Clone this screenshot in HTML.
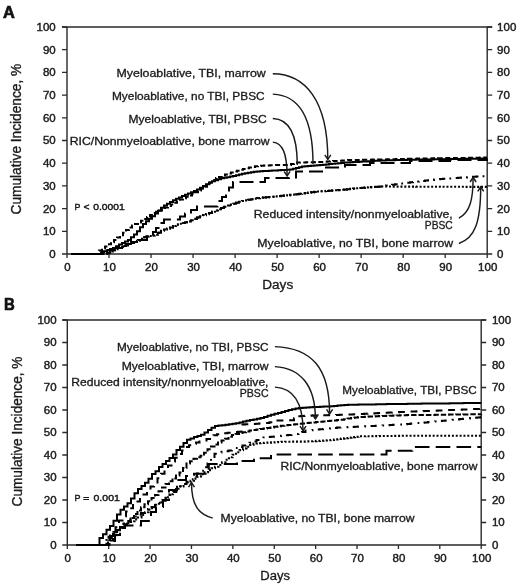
<!DOCTYPE html><html><head><meta charset="utf-8"><style>html,body{margin:0;padding:0;background:#fff;} svg{display:block;will-change:transform;} text{font-family:"Liberation Sans", sans-serif;}</style></head><body>
<svg width="520" height="585" viewBox="0 0 520 585">
<rect width="520" height="585" fill="#fff"/>
<text x="3.1" y="18.1" font-size="16.8" text-anchor="start" font-weight="bold" fill="#111" stroke="#111" stroke-width="0.7" textLength="11.8" lengthAdjust="spacingAndGlyphs">A</text>
<text x="3.9" y="309.8" font-size="17.2" text-anchor="start" font-weight="bold" fill="#111" stroke="#111" stroke-width="0.7" textLength="10.8" lengthAdjust="spacingAndGlyphs">B</text>
<path d="M67.0,27.0 V254.0 M487.2,27.0 V254.0 M62.0,27.0 H492.2 M67.0,254.0 H487.2" stroke="#2a2a2a" stroke-width="1.4" fill="none"/>
<text x="55.7" y="257.90" font-size="10.5" text-anchor="end" font-weight="normal" fill="#1a1a1a" stroke="#1a1a1a" stroke-width="0.4" textLength="6.4" lengthAdjust="spacingAndGlyphs">0</text>
<text x="497.1" y="257.90" font-size="10.5" text-anchor="start" font-weight="normal" fill="#1a1a1a" stroke="#1a1a1a" stroke-width="0.4" textLength="6.4" lengthAdjust="spacingAndGlyphs">0</text>
<text x="55.7" y="235.20" font-size="10.5" text-anchor="end" font-weight="normal" fill="#1a1a1a" stroke="#1a1a1a" stroke-width="0.4" textLength="12.8" lengthAdjust="spacingAndGlyphs">10</text>
<text x="497.1" y="235.20" font-size="10.5" text-anchor="start" font-weight="normal" fill="#1a1a1a" stroke="#1a1a1a" stroke-width="0.4" textLength="12.8" lengthAdjust="spacingAndGlyphs">10</text>
<text x="55.7" y="212.50" font-size="10.5" text-anchor="end" font-weight="normal" fill="#1a1a1a" stroke="#1a1a1a" stroke-width="0.4" textLength="12.8" lengthAdjust="spacingAndGlyphs">20</text>
<text x="497.1" y="212.50" font-size="10.5" text-anchor="start" font-weight="normal" fill="#1a1a1a" stroke="#1a1a1a" stroke-width="0.4" textLength="12.8" lengthAdjust="spacingAndGlyphs">20</text>
<text x="55.7" y="189.80" font-size="10.5" text-anchor="end" font-weight="normal" fill="#1a1a1a" stroke="#1a1a1a" stroke-width="0.4" textLength="12.8" lengthAdjust="spacingAndGlyphs">30</text>
<text x="497.1" y="189.80" font-size="10.5" text-anchor="start" font-weight="normal" fill="#1a1a1a" stroke="#1a1a1a" stroke-width="0.4" textLength="12.8" lengthAdjust="spacingAndGlyphs">30</text>
<text x="55.7" y="167.10" font-size="10.5" text-anchor="end" font-weight="normal" fill="#1a1a1a" stroke="#1a1a1a" stroke-width="0.4" textLength="12.8" lengthAdjust="spacingAndGlyphs">40</text>
<text x="497.1" y="167.10" font-size="10.5" text-anchor="start" font-weight="normal" fill="#1a1a1a" stroke="#1a1a1a" stroke-width="0.4" textLength="12.8" lengthAdjust="spacingAndGlyphs">40</text>
<text x="55.7" y="144.40" font-size="10.5" text-anchor="end" font-weight="normal" fill="#1a1a1a" stroke="#1a1a1a" stroke-width="0.4" textLength="12.8" lengthAdjust="spacingAndGlyphs">50</text>
<text x="497.1" y="144.40" font-size="10.5" text-anchor="start" font-weight="normal" fill="#1a1a1a" stroke="#1a1a1a" stroke-width="0.4" textLength="12.8" lengthAdjust="spacingAndGlyphs">50</text>
<text x="55.7" y="121.70" font-size="10.5" text-anchor="end" font-weight="normal" fill="#1a1a1a" stroke="#1a1a1a" stroke-width="0.4" textLength="12.8" lengthAdjust="spacingAndGlyphs">60</text>
<text x="497.1" y="121.70" font-size="10.5" text-anchor="start" font-weight="normal" fill="#1a1a1a" stroke="#1a1a1a" stroke-width="0.4" textLength="12.8" lengthAdjust="spacingAndGlyphs">60</text>
<text x="55.7" y="99.00" font-size="10.5" text-anchor="end" font-weight="normal" fill="#1a1a1a" stroke="#1a1a1a" stroke-width="0.4" textLength="12.8" lengthAdjust="spacingAndGlyphs">70</text>
<text x="497.1" y="99.00" font-size="10.5" text-anchor="start" font-weight="normal" fill="#1a1a1a" stroke="#1a1a1a" stroke-width="0.4" textLength="12.8" lengthAdjust="spacingAndGlyphs">70</text>
<text x="55.7" y="76.30" font-size="10.5" text-anchor="end" font-weight="normal" fill="#1a1a1a" stroke="#1a1a1a" stroke-width="0.4" textLength="12.8" lengthAdjust="spacingAndGlyphs">80</text>
<text x="497.1" y="76.30" font-size="10.5" text-anchor="start" font-weight="normal" fill="#1a1a1a" stroke="#1a1a1a" stroke-width="0.4" textLength="12.8" lengthAdjust="spacingAndGlyphs">80</text>
<text x="55.7" y="53.60" font-size="10.5" text-anchor="end" font-weight="normal" fill="#1a1a1a" stroke="#1a1a1a" stroke-width="0.4" textLength="12.8" lengthAdjust="spacingAndGlyphs">90</text>
<text x="497.1" y="53.60" font-size="10.5" text-anchor="start" font-weight="normal" fill="#1a1a1a" stroke="#1a1a1a" stroke-width="0.4" textLength="12.8" lengthAdjust="spacingAndGlyphs">90</text>
<text x="55.7" y="30.90" font-size="10.5" text-anchor="end" font-weight="normal" fill="#1a1a1a" stroke="#1a1a1a" stroke-width="0.4" textLength="19.2" lengthAdjust="spacingAndGlyphs">100</text>
<text x="497.1" y="30.90" font-size="10.5" text-anchor="start" font-weight="normal" fill="#1a1a1a" stroke="#1a1a1a" stroke-width="0.4" textLength="19.2" lengthAdjust="spacingAndGlyphs">100</text>
<text x="67.50" y="271.0" font-size="10.5" text-anchor="middle" font-weight="normal" fill="#1a1a1a" stroke="#1a1a1a" stroke-width="0.4" textLength="6.4" lengthAdjust="spacingAndGlyphs">0</text>
<text x="109.52" y="271.0" font-size="10.5" text-anchor="middle" font-weight="normal" fill="#1a1a1a" stroke="#1a1a1a" stroke-width="0.4" textLength="12.8" lengthAdjust="spacingAndGlyphs">10</text>
<text x="151.54" y="271.0" font-size="10.5" text-anchor="middle" font-weight="normal" fill="#1a1a1a" stroke="#1a1a1a" stroke-width="0.4" textLength="12.8" lengthAdjust="spacingAndGlyphs">20</text>
<text x="193.56" y="271.0" font-size="10.5" text-anchor="middle" font-weight="normal" fill="#1a1a1a" stroke="#1a1a1a" stroke-width="0.4" textLength="12.8" lengthAdjust="spacingAndGlyphs">30</text>
<text x="235.58" y="271.0" font-size="10.5" text-anchor="middle" font-weight="normal" fill="#1a1a1a" stroke="#1a1a1a" stroke-width="0.4" textLength="12.8" lengthAdjust="spacingAndGlyphs">40</text>
<text x="277.60" y="271.0" font-size="10.5" text-anchor="middle" font-weight="normal" fill="#1a1a1a" stroke="#1a1a1a" stroke-width="0.4" textLength="12.8" lengthAdjust="spacingAndGlyphs">50</text>
<text x="319.62" y="271.0" font-size="10.5" text-anchor="middle" font-weight="normal" fill="#1a1a1a" stroke="#1a1a1a" stroke-width="0.4" textLength="12.8" lengthAdjust="spacingAndGlyphs">60</text>
<text x="361.64" y="271.0" font-size="10.5" text-anchor="middle" font-weight="normal" fill="#1a1a1a" stroke="#1a1a1a" stroke-width="0.4" textLength="12.8" lengthAdjust="spacingAndGlyphs">70</text>
<text x="403.66" y="271.0" font-size="10.5" text-anchor="middle" font-weight="normal" fill="#1a1a1a" stroke="#1a1a1a" stroke-width="0.4" textLength="12.8" lengthAdjust="spacingAndGlyphs">80</text>
<text x="445.68" y="271.0" font-size="10.5" text-anchor="middle" font-weight="normal" fill="#1a1a1a" stroke="#1a1a1a" stroke-width="0.4" textLength="12.8" lengthAdjust="spacingAndGlyphs">90</text>
<text x="487.70" y="271.0" font-size="10.5" text-anchor="middle" font-weight="normal" fill="#1a1a1a" stroke="#1a1a1a" stroke-width="0.4" textLength="19.2" lengthAdjust="spacingAndGlyphs">100</text>
<path d="M62.0,254.00 H67.0 M487.2,254.00 H492.2 M62.0,231.30 H67.0 M487.2,231.30 H492.2 M62.0,208.60 H67.0 M487.2,208.60 H492.2 M62.0,185.90 H67.0 M487.2,185.90 H492.2 M62.0,163.20 H67.0 M487.2,163.20 H492.2 M62.0,140.50 H67.0 M487.2,140.50 H492.2 M62.0,117.80 H67.0 M487.2,117.80 H492.2 M62.0,95.10 H67.0 M487.2,95.10 H492.2 M62.0,72.40 H67.0 M487.2,72.40 H492.2 M62.0,49.70 H67.0 M487.2,49.70 H492.2 M62.0,27.00 H67.0 M487.2,27.00 H492.2 M67.00,254.0 V258.0 M109.02,254.0 V258.0 M151.04,254.0 V258.0 M193.06,254.0 V258.0 M235.08,254.0 V258.0 M277.10,254.0 V258.0 M319.12,254.0 V258.0 M361.14,254.0 V258.0 M403.16,254.0 V258.0 M445.18,254.0 V258.0 M487.20,254.0 V258.0" stroke="#2a2a2a" stroke-width="1.3" fill="none"/>
<text x="262.2" y="288.7" font-size="12.5" text-anchor="start" font-weight="normal" fill="#1a1a1a" stroke="#1a1a1a" stroke-width="0.3" textLength="31.0" lengthAdjust="spacingAndGlyphs">Days</text>
<text transform="translate(21.1,214.5) rotate(-90)" x="0" y="0" font-size="14" fill="#1a1a1a" stroke="#1a1a1a" stroke-width="0.35" textLength="150.7" lengthAdjust="spacingAndGlyphs">Cumulative Incidence, %</text>
<path d="M67.3,320.0 V545.0 M481.2,320.0 V545.0 M62.3,320.0 H486.2 M67.3,545.0 H481.2" stroke="#2a2a2a" stroke-width="1.4" fill="none"/>
<text x="56.6" y="548.90" font-size="10.5" text-anchor="end" font-weight="normal" fill="#1a1a1a" stroke="#1a1a1a" stroke-width="0.4" textLength="6.4" lengthAdjust="spacingAndGlyphs">0</text>
<text x="491.9" y="548.90" font-size="10.5" text-anchor="start" font-weight="normal" fill="#1a1a1a" stroke="#1a1a1a" stroke-width="0.4" textLength="6.4" lengthAdjust="spacingAndGlyphs">0</text>
<text x="56.6" y="526.40" font-size="10.5" text-anchor="end" font-weight="normal" fill="#1a1a1a" stroke="#1a1a1a" stroke-width="0.4" textLength="12.8" lengthAdjust="spacingAndGlyphs">10</text>
<text x="491.9" y="526.40" font-size="10.5" text-anchor="start" font-weight="normal" fill="#1a1a1a" stroke="#1a1a1a" stroke-width="0.4" textLength="12.8" lengthAdjust="spacingAndGlyphs">10</text>
<text x="56.6" y="503.90" font-size="10.5" text-anchor="end" font-weight="normal" fill="#1a1a1a" stroke="#1a1a1a" stroke-width="0.4" textLength="12.8" lengthAdjust="spacingAndGlyphs">20</text>
<text x="491.9" y="503.90" font-size="10.5" text-anchor="start" font-weight="normal" fill="#1a1a1a" stroke="#1a1a1a" stroke-width="0.4" textLength="12.8" lengthAdjust="spacingAndGlyphs">20</text>
<text x="56.6" y="481.40" font-size="10.5" text-anchor="end" font-weight="normal" fill="#1a1a1a" stroke="#1a1a1a" stroke-width="0.4" textLength="12.8" lengthAdjust="spacingAndGlyphs">30</text>
<text x="491.9" y="481.40" font-size="10.5" text-anchor="start" font-weight="normal" fill="#1a1a1a" stroke="#1a1a1a" stroke-width="0.4" textLength="12.8" lengthAdjust="spacingAndGlyphs">30</text>
<text x="56.6" y="458.90" font-size="10.5" text-anchor="end" font-weight="normal" fill="#1a1a1a" stroke="#1a1a1a" stroke-width="0.4" textLength="12.8" lengthAdjust="spacingAndGlyphs">40</text>
<text x="491.9" y="458.90" font-size="10.5" text-anchor="start" font-weight="normal" fill="#1a1a1a" stroke="#1a1a1a" stroke-width="0.4" textLength="12.8" lengthAdjust="spacingAndGlyphs">40</text>
<text x="56.6" y="436.40" font-size="10.5" text-anchor="end" font-weight="normal" fill="#1a1a1a" stroke="#1a1a1a" stroke-width="0.4" textLength="12.8" lengthAdjust="spacingAndGlyphs">50</text>
<text x="491.9" y="436.40" font-size="10.5" text-anchor="start" font-weight="normal" fill="#1a1a1a" stroke="#1a1a1a" stroke-width="0.4" textLength="12.8" lengthAdjust="spacingAndGlyphs">50</text>
<text x="56.6" y="413.90" font-size="10.5" text-anchor="end" font-weight="normal" fill="#1a1a1a" stroke="#1a1a1a" stroke-width="0.4" textLength="12.8" lengthAdjust="spacingAndGlyphs">60</text>
<text x="491.9" y="413.90" font-size="10.5" text-anchor="start" font-weight="normal" fill="#1a1a1a" stroke="#1a1a1a" stroke-width="0.4" textLength="12.8" lengthAdjust="spacingAndGlyphs">60</text>
<text x="56.6" y="391.40" font-size="10.5" text-anchor="end" font-weight="normal" fill="#1a1a1a" stroke="#1a1a1a" stroke-width="0.4" textLength="12.8" lengthAdjust="spacingAndGlyphs">70</text>
<text x="491.9" y="391.40" font-size="10.5" text-anchor="start" font-weight="normal" fill="#1a1a1a" stroke="#1a1a1a" stroke-width="0.4" textLength="12.8" lengthAdjust="spacingAndGlyphs">70</text>
<text x="56.6" y="368.90" font-size="10.5" text-anchor="end" font-weight="normal" fill="#1a1a1a" stroke="#1a1a1a" stroke-width="0.4" textLength="12.8" lengthAdjust="spacingAndGlyphs">80</text>
<text x="491.9" y="368.90" font-size="10.5" text-anchor="start" font-weight="normal" fill="#1a1a1a" stroke="#1a1a1a" stroke-width="0.4" textLength="12.8" lengthAdjust="spacingAndGlyphs">80</text>
<text x="56.6" y="346.40" font-size="10.5" text-anchor="end" font-weight="normal" fill="#1a1a1a" stroke="#1a1a1a" stroke-width="0.4" textLength="12.8" lengthAdjust="spacingAndGlyphs">90</text>
<text x="491.9" y="346.40" font-size="10.5" text-anchor="start" font-weight="normal" fill="#1a1a1a" stroke="#1a1a1a" stroke-width="0.4" textLength="12.8" lengthAdjust="spacingAndGlyphs">90</text>
<text x="56.6" y="323.90" font-size="10.5" text-anchor="end" font-weight="normal" fill="#1a1a1a" stroke="#1a1a1a" stroke-width="0.4" textLength="19.2" lengthAdjust="spacingAndGlyphs">100</text>
<text x="491.9" y="323.90" font-size="10.5" text-anchor="start" font-weight="normal" fill="#1a1a1a" stroke="#1a1a1a" stroke-width="0.4" textLength="19.2" lengthAdjust="spacingAndGlyphs">100</text>
<text x="67.80" y="562.0" font-size="10.5" text-anchor="middle" font-weight="normal" fill="#1a1a1a" stroke="#1a1a1a" stroke-width="0.4" textLength="6.4" lengthAdjust="spacingAndGlyphs">0</text>
<text x="109.19" y="562.0" font-size="10.5" text-anchor="middle" font-weight="normal" fill="#1a1a1a" stroke="#1a1a1a" stroke-width="0.4" textLength="12.8" lengthAdjust="spacingAndGlyphs">10</text>
<text x="150.58" y="562.0" font-size="10.5" text-anchor="middle" font-weight="normal" fill="#1a1a1a" stroke="#1a1a1a" stroke-width="0.4" textLength="12.8" lengthAdjust="spacingAndGlyphs">20</text>
<text x="191.97" y="562.0" font-size="10.5" text-anchor="middle" font-weight="normal" fill="#1a1a1a" stroke="#1a1a1a" stroke-width="0.4" textLength="12.8" lengthAdjust="spacingAndGlyphs">30</text>
<text x="233.36" y="562.0" font-size="10.5" text-anchor="middle" font-weight="normal" fill="#1a1a1a" stroke="#1a1a1a" stroke-width="0.4" textLength="12.8" lengthAdjust="spacingAndGlyphs">40</text>
<text x="274.75" y="562.0" font-size="10.5" text-anchor="middle" font-weight="normal" fill="#1a1a1a" stroke="#1a1a1a" stroke-width="0.4" textLength="12.8" lengthAdjust="spacingAndGlyphs">50</text>
<text x="316.14" y="562.0" font-size="10.5" text-anchor="middle" font-weight="normal" fill="#1a1a1a" stroke="#1a1a1a" stroke-width="0.4" textLength="12.8" lengthAdjust="spacingAndGlyphs">60</text>
<text x="357.53" y="562.0" font-size="10.5" text-anchor="middle" font-weight="normal" fill="#1a1a1a" stroke="#1a1a1a" stroke-width="0.4" textLength="12.8" lengthAdjust="spacingAndGlyphs">70</text>
<text x="398.92" y="562.0" font-size="10.5" text-anchor="middle" font-weight="normal" fill="#1a1a1a" stroke="#1a1a1a" stroke-width="0.4" textLength="12.8" lengthAdjust="spacingAndGlyphs">80</text>
<text x="440.31" y="562.0" font-size="10.5" text-anchor="middle" font-weight="normal" fill="#1a1a1a" stroke="#1a1a1a" stroke-width="0.4" textLength="12.8" lengthAdjust="spacingAndGlyphs">90</text>
<text x="481.70" y="562.0" font-size="10.5" text-anchor="middle" font-weight="normal" fill="#1a1a1a" stroke="#1a1a1a" stroke-width="0.4" textLength="19.2" lengthAdjust="spacingAndGlyphs">100</text>
<path d="M62.3,545.00 H67.3 M481.2,545.00 H486.2 M62.3,522.50 H67.3 M481.2,522.50 H486.2 M62.3,500.00 H67.3 M481.2,500.00 H486.2 M62.3,477.50 H67.3 M481.2,477.50 H486.2 M62.3,455.00 H67.3 M481.2,455.00 H486.2 M62.3,432.50 H67.3 M481.2,432.50 H486.2 M62.3,410.00 H67.3 M481.2,410.00 H486.2 M62.3,387.50 H67.3 M481.2,387.50 H486.2 M62.3,365.00 H67.3 M481.2,365.00 H486.2 M62.3,342.50 H67.3 M481.2,342.50 H486.2 M62.3,320.00 H67.3 M481.2,320.00 H486.2 M67.30,545.0 V549.0 M108.69,545.0 V549.0 M150.08,545.0 V549.0 M191.47,545.0 V549.0 M232.86,545.0 V549.0 M274.25,545.0 V549.0 M315.64,545.0 V549.0 M357.03,545.0 V549.0 M398.42,545.0 V549.0 M439.81,545.0 V549.0 M481.20,545.0 V549.0" stroke="#2a2a2a" stroke-width="1.3" fill="none"/>
<text x="260.3" y="579.7" font-size="12.5" text-anchor="start" font-weight="normal" fill="#1a1a1a" stroke="#1a1a1a" stroke-width="0.3" textLength="29.8" lengthAdjust="spacingAndGlyphs">Days</text>
<text transform="translate(22.3,506.4) rotate(-90)" x="0" y="0" font-size="14" fill="#1a1a1a" stroke="#1a1a1a" stroke-width="0.35" textLength="149.8" lengthAdjust="spacingAndGlyphs">Cumulative Incidence, %</text>
<path d="M71.5,254.0 H98.0 H101.0 V252.4 H104.0 V251.3 H107.0 V250.2 H110.0 V249.1 H113.0 V248.0 H116.0 V246.3 H119.0 V244.6 H122.0 V243.0 H125.0 V241.4 H128.0 V239.9 H131.0 V237.3 H134.0 V234.5 H137.0 V231.3 H140.0 V227.2 H143.0 V224.0 H146.0 V221.3 H149.0 V218.7 H152.0 V216.2 H155.0 V213.6 H158.0 V210.7 H161.0 V207.8 H164.0 V205.5 H167.0 V203.8 H170.0 V202.0 H173.0 V200.3 H176.0 V198.7 H179.0 V197.4 H182.0 V196.1 H185.0 V194.8 H188.0 V193.4 H191.0 V192.2 H194.0 V190.9 H197.0 V189.4 H200.0 V187.7 H203.0 V186.0 H206.0 V184.3 H209.0 V182.6 H212.0 V181.3 H215.0 V180.2 H218.0 V179.2 H221.0 V178.3 H224.0 V177.8 H227.0 V177.3 H230.0 V176.6 H233.0 V175.9 H236.0 V175.2 H239.0 V174.5 H242.0 V173.8 H245.0 V173.3 H248.0 V172.8 H251.0 V172.3 H254.0 V171.8 H257.0 V171.4 H260.0 V171.3 H263.0 V171.1 H266.0 V170.9 H269.0 V170.7 H272.0 V170.6 H275.0 V170.4 H278.0 V170.2 H281.0 V170.0 H284.0 V169.9 H287.0 V169.7 H290.0 V169.5 H293.0 V168.8 H296.0 V168.0 H299.0 V167.2 H302.0 V166.5 H305.0 V166.2 H308.0 V166.0 H311.0 V165.8 H314.0 V165.5 H317.0 V165.2 H320.0 V165.0 H323.0 V164.7 H326.0 V164.4 H329.0 V164.1 H332.0 V163.8 H335.0 V163.5 H338.0 V163.2 H341.0 V162.9 H344.0 V162.6 H347.0 V162.4 H350.0 V162.2 H353.0 V162.0 H356.0 V161.9 H359.0 V161.7 H362.0 V161.5 H365.0 V161.4 H368.0 V161.2 H371.0 V161.0 H374.0 V160.8 H377.0 V160.7 H380.0 V160.5 H383.0 V160.4 H386.0 V160.3 H389.0 V160.3 H392.0 V160.2 H395.0 V160.1 H398.0 V160.1 H401.0 V160.0 H404.0 V159.9 H407.0 V159.8 H410.0 V159.8 H413.0 V159.7 H416.0 V159.6 H419.0 V159.5 H422.0 V159.5 H425.0 H428.0 V159.4 H431.0 H434.0 V159.3 H437.0 H440.0 V159.2 H443.0 H446.0 V159.1 H449.0 H452.0 V159.0 H455.0 H458.0 V158.9 H461.0 H464.0 V158.8 H467.0 H470.0 V158.8 H473.0 H476.0 V158.7 H479.0 H482.0 V158.6 H485.0 H487.0 V158.5" stroke="#000" stroke-width="2.0" fill="none"/>
<path d="M71.5,254.0 H96.0 H99.0 V250.5 H102.0 V248.4 H105.0 V246.4 H108.0 V244.3 H111.0 V242.2 H114.0 V240.0 H117.0 V237.6 H120.0 V235.2 H123.0 V232.7 H126.0 V230.0 H129.0 V227.4 H132.0 V225.5 H135.0 V224.0 H138.0 V222.5 H141.0 V220.8 H144.0 V218.9 H147.0 V216.9 H150.0 V214.9 H153.0 V213.1 H156.0 V211.8 H159.0 V210.4 H162.0 V209.0 H165.0 V207.5 H168.0 V206.0 H171.0 V204.4 H174.0 V202.8 H177.0 V201.2 H180.0 V199.5 H183.0 V198.2 H186.0 V196.8 H189.0 V195.4 H192.0 V193.9 H195.0 V192.2 H198.0 V190.6 H201.0 V188.8 H204.0 V186.8 H207.0 V184.7 H210.0 V182.4 H213.0 V180.1 H216.0 V178.1 H219.0 V176.9 H222.0 V175.6 H225.0 V174.4 H228.0 V173.4 H231.0 V172.5 H234.0 V171.6 H237.0 V170.7 H240.0 V169.8 H243.0 V169.0 H246.0 V168.3 H249.0 V167.6 H252.0 V166.9 H255.0 V166.2 H258.0 V165.9 H261.0 V165.7 H264.0 V165.6 H267.0 V165.4 H270.0 V165.3 H273.0 V165.1 H276.0 V165.0 H279.0 H282.0 H285.0 H288.0 H291.0 V164.1 H294.0 V163.1 H297.0 V162.5 H300.0 V162.4 H303.0 V162.4 H306.0 V162.3 H309.0 V162.2 H312.0 V162.2 H315.0 V162.1 H318.0 V162.0 H321.0 V161.9 H324.0 V161.7 H327.0 V161.5 H330.0 V161.3 H333.0 V161.1 H336.0 V160.9 H339.0 V160.7 H342.0 V160.5 H345.0 V160.3 H348.0 V160.1 H351.0 V160.0 H354.0 H357.0 V159.9 H360.0 H363.0 V159.8 H366.0 V159.7 H369.0 H372.0 V159.6 H375.0 H378.0 V159.5 H381.0 V159.5 H384.0 V159.4 H387.0 V159.3 H390.0 V159.2 H393.0 V159.2 H396.0 V159.1 H399.0 V159.0 H402.0 V158.9 H405.0 V158.9 H408.0 V158.8 H411.0 V158.7 H414.0 V158.7 H417.0 V158.6 H420.0 V158.5 H423.0 H426.0 V158.4 H429.0 H432.0 V158.3 H435.0 H438.0 V158.2 H441.0 H444.0 V158.1 H447.0 H450.0 V158.1 H453.0 H456.0 V158.0 H459.0 H462.0 V157.9 H465.0 H468.0 V157.8 H471.0 H474.0 V157.7 H477.0 H480.0 V157.6 H483.0 H486.0 V157.5 H487.0" stroke="#000" stroke-width="2.0" fill="none" stroke-dasharray="5 2.7"/>
<path d="M71.5,254 H102 V252 H108 V250 H114 V248 H120 V246 H126 V244 H131 V242 H138 V240 H147 V236.5 H153 V232 H156 V228 H160 V223 H164 V219.4 H180 V216.5 H185 V213.6 H191 V210 H197 V206.5 H217.5 V201 H222 V197 H226 V193 H229 V187.5 H233 V182 H265 V178 H289 V177.5 H296 V171.5 H324 V167.5 H345 V165 H370 V163 H410 V161 H450 V160 H487 V159" stroke="#000" stroke-width="2.0" fill="none" stroke-dasharray="14 6"/>
<path d="M71.5,254.0 H104.0 H107.0 V252.7 H110.0 V251.4 H113.0 V250.3 H116.0 V249.1 H119.0 V248.0 H122.0 V246.8 H125.0 V245.5 H128.0 V244.3 H131.0 V243.0 H134.0 V242.0 H137.0 V240.7 H140.0 V238.8 H143.0 V237.2 H146.0 V236.6 H149.0 V236.0 H152.0 V235.5 H155.0 V234.7 H158.0 V232.8 H161.0 V230.8 H164.0 V229.5 H167.0 V228.6 H170.0 V227.5 H173.0 V226.0 H176.0 V224.6 H179.0 V223.8 H182.0 V223.0 H185.0 V222.2 H188.0 V221.4 H191.0 V220.2 H194.0 V218.9 H197.0 V217.6 H200.0 V216.3 H203.0 V215.1 H206.0 V214.1 H209.0 V213.0 H212.0 V211.8 H215.0 V210.5 H218.0 V209.2 H221.0 V207.9 H224.0 V206.7 H227.0 V205.5 H230.0 V204.6 H233.0 V203.7 H236.0 V202.7 H239.0 V201.8 H242.0 V201.0 H245.0 V200.4 H248.0 V199.8 H251.0 V199.2 H254.0 V198.6 H257.0 V198.1 H260.0 V197.8 H263.0 V197.5 H266.0 V197.3 H269.0 V197.0 H272.0 V196.7 H275.0 V196.4 H278.0 V196.1 H281.0 V195.8 H284.0 V195.5 H287.0 V195.2 H290.0 V194.9 H293.0 V194.6 H296.0 V194.2 H299.0 V193.8 H302.0 V193.4 H305.0 V193.0 H308.0 V192.6 H311.0 V192.3 H314.0 V191.9 H317.0 V191.5 H320.0 V191.3 H323.0 V191.1 H326.0 V190.9 H329.0 V190.7 H332.0 V190.5 H335.0 V190.3 H338.0 V190.1 H341.0 V189.8 H344.0 V189.5 H347.0 V189.2 H350.0 V188.9 H353.0 V188.6 H356.0 V188.3 H359.0 V188.0 H362.0 V187.7 H365.0 V187.5 H368.0 V187.3 H371.0 V187.1 H374.0 V186.9 H377.0 V186.7 H380.0 V186.5 H383.0 V186.1 H386.0 V185.6 H389.0 V185.2 H392.0 V184.7 H395.0 V184.2 H398.0 V183.8 H401.0 V183.4 H404.0 V183.0 H407.0 V182.7 H410.0 V182.3 H413.0 V181.9 H416.0 V181.6 H419.0 V181.2 H422.0 V180.9 H425.0 V180.5 H428.0 V180.2 H431.0 V179.9 H434.0 V179.6 H437.0 V179.3 H440.0 V179.0 H443.0 V178.8 H446.0 V178.6 H449.0 V178.4 H452.0 V178.2 H455.0 V178.0 H458.0 V177.8 H461.0 V177.6 H464.0 V177.4 H467.0 V177.2 H470.0 V177.0 H473.0 V176.8 H476.0 V176.6 H479.0 V176.4 H482.0 V176.2 H485.0 V175.9 H487.0 V175.8" stroke="#000" stroke-width="2.0" fill="none" stroke-dasharray="6.5 4.5 1.8 4.9"/>
<path d="M71.5,254.0 H104.0 H107.0 V252.7 H110.0 V251.4 H113.0 V250.3 H116.0 V249.1 H119.0 V248.0 H122.0 V246.8 H125.0 V245.5 H128.0 V244.3 H131.0 V243.0 H134.0 V242.0 H137.0 V240.7 H140.0 V238.8 H143.0 V237.2 H146.0 V236.6 H149.0 V236.0 H152.0 V235.5 H155.0 V234.7 H158.0 V232.8 H161.0 V230.8 H164.0 V229.5 H167.0 V228.6 H170.0 V227.5 H173.0 V226.0 H176.0 V224.6 H179.0 V223.8 H182.0 V223.0 H185.0 V222.2 H188.0 V221.4 H191.0 V220.2 H194.0 V218.9 H197.0 V217.6 H200.0 V216.3 H203.0 V215.1 H206.0 V214.1 H209.0 V213.0 H212.0 V211.8 H215.0 V210.5 H218.0 V209.2 H221.0 V207.9 H224.0 V206.7 H227.0 V205.5 H230.0 V204.6 H233.0 V203.7 H236.0 V202.7 H239.0 V201.8 H242.0 V201.0 H245.0 V200.4 H248.0 V199.8 H251.0 V199.2 H254.0 V198.6 H257.0 V198.1 H260.0 V197.8 H263.0 V197.5 H266.0 V197.3 H269.0 V197.0 H272.0 V196.7 H275.0 V196.4 H278.0 V196.1 H281.0 V195.8 H284.0 V195.5 H287.0 V195.2 H290.0 V194.9 H293.0 V194.6 H296.0 V194.2 H299.0 V193.8 H302.0 V193.4 H305.0 V193.0 H308.0 V192.6 H311.0 V192.3 H314.0 V191.9 H317.0 V191.5 H320.0 V191.3 H323.0 V191.1 H326.0 V190.9 H329.0 V190.7 H332.0 V190.5 H335.0 V190.3 H338.0 V190.1 H341.0 V189.8 H344.0 V189.5 H347.0 V189.2 H350.0 V188.9 H353.0 V188.6 H356.0 V188.3 H359.0 V188.0 H362.0 V187.7 H365.0 V187.5 H368.0 V187.3 H371.0 V187.1 H374.0 V186.9 H377.0 V186.7 H380.0 V186.5 H383.0 H386.0 H389.0 H392.0 V186.6 H395.0 H398.0 H401.0 H404.0 V186.6 H407.0 H410.0 H413.0 H416.0 V186.7 H419.0 H422.0 H425.0 H428.0 V186.7 H431.0 H434.0 H437.0 H440.0 V186.8 H443.0 H446.0 H449.0 H452.0 V186.8 H455.0 H458.0 H461.0 H464.0 V186.9 H467.0 H470.0 H473.0 H476.0 V186.9 H479.0 H482.0 H485.0 H487.0 V187.0" stroke="#000" stroke-width="2.1" fill="none" stroke-dasharray="2 1.85"/>
<path d="M76.0,545.0 H96.0 H99.5 V538.1 H103.0 V534.3 H106.5 V529.7 H110.0 V525.9 H113.5 V520.8 H117.0 V514.6 H120.5 V509.8 H124.0 V506.4 H127.5 V503.3 H131.0 V498.6 H134.5 V493.2 H138.0 V489.0 H141.5 V486.0 H145.0 V482.8 H148.5 V478.8 H152.0 V474.1 H155.5 V471.3 H159.0 V467.1 H162.5 V463.9 H166.0 V460.9 H169.5 V458.1 H173.0 V454.6 H176.5 V450.0 H180.0 V446.7 H183.5 V443.1 H187.0 V439.8 H190.5 V438.4 H194.0 V437.0 H197.5 V435.9 H201.0 V434.8 H204.5 V432.5 H208.0 V430.0 H211.5 V427.8 H215.0 V426.1 H218.5 V425.6 H222.0 V425.2 H225.5 V424.7 H229.0 V424.2 H232.5 V423.7 H236.0 V423.2 H239.5 V422.4 H243.0 V421.4 H246.5 V420.8 H250.0 V420.1 H253.5 V419.4 H257.0 V418.8 H260.5 V417.9 H264.0 V416.9 H267.5 V415.8 H271.0 V414.8 H274.5 V413.8 H278.0 V412.9 H281.5 V411.9 H285.0 V411.0 H288.5 V410.1 H292.0 V409.2 H295.5 V408.6 H299.0 V408.0 H302.5 V407.7 H306.0 V407.5 H309.5 V407.3 H313.0 V407.1 H316.5 V406.9 H320.0 V406.8 H323.5 V406.6 H327.0 V406.4 H330.5 V406.2 H334.0 V405.9 H337.5 V405.6 H341.0 V405.3 H344.5 V405.1 H348.0 V404.8 H351.5 V404.7 H355.0 V404.7 H358.5 V404.6 H362.0 V404.6 H365.5 V404.5 H369.0 V404.4 H372.5 V404.4 H376.0 V404.3 H379.5 V404.3 H383.0 V404.2 H386.5 V404.1 H390.0 V404.1 H393.5 V404.0 H397.0 V404.0 H400.5 V403.9 H404.0 H407.5 V403.8 H411.0 H414.5 V403.7 H418.0 H421.5 V403.6 H425.0 H428.5 V403.5 H432.0 H435.5 V403.5 H439.0 H442.5 V403.4 H446.0 H449.5 V403.3 H453.0 H456.5 V403.2 H460.0 H463.5 V403.1 H467.0 H470.5 V403.0 H474.0 H477.5 V402.9 H481.0 H481.2" stroke="#000" stroke-width="2.0" fill="none"/>
<path d="M76.0,545.0 H105.0 H108.5 V536.7 H112.0 V531.8 H115.5 V527.3 H119.0 V520.4 H122.5 V516.3 H126.0 V511.6 H129.5 V508.2 H133.0 V505.0 H136.5 V501.5 H140.0 V498.0 H143.5 V494.5 H147.0 V490.9 H150.5 V486.6 H154.0 V482.5 H157.5 V478.3 H161.0 V473.7 H164.5 V469.3 H168.0 V465.4 H171.5 V461.5 H175.0 V457.7 H178.5 V454.0 H182.0 V450.5 H185.5 V447.0 H189.0 V445.2 H192.5 V443.7 H196.0 V442.4 H199.5 V441.4 H203.0 V440.5 H206.5 V439.0 H210.0 V437.1 H213.5 V435.3 H217.0 V434.2 H220.5 V433.7 H224.0 V433.2 H227.5 V432.7 H231.0 V432.3 H234.5 V432.0 H238.0 V431.7 H241.5 V424.5 H245.0 V424.3 H248.5 V424.1 H252.0 V423.9 H255.5 V423.7 H259.0 V423.5 H262.5 V423.3 H266.0 V423.1 H269.5 V422.3 H273.0 V421.3 H276.5 V420.5 H280.0 V420.4 H283.5 V420.3 H287.0 V420.2 H290.5 V420.2 H294.0 V418.3 H297.5 V416.3 H301.0 V416.1 H304.5 V415.8 H308.0 V415.7 H311.5 V415.6 H315.0 V415.5 H318.5 V415.4 H322.0 V415.3 H325.5 V415.2 H329.0 V415.1 H332.5 V415.0 H336.0 V414.9 H339.5 V414.8 H343.0 V414.7 H346.5 V414.5 H350.0 V414.4 H353.5 V414.2 H357.0 V414.1 H360.5 V413.9 H364.0 V413.7 H367.5 V413.6 H371.0 V413.4 H374.5 V413.2 H378.0 V413.1 H381.5 V412.9 H385.0 V412.7 H388.5 V412.6 H392.0 V412.4 H395.5 V412.2 H399.0 V412.0 H402.5 V411.9 H406.0 V411.8 H409.5 V411.6 H413.0 V411.5 H416.5 V411.3 H420.0 V411.2 H423.5 V411.1 H427.0 V410.9 H430.5 V410.8 H434.0 V410.7 H437.5 V410.5 H441.0 V410.4 H444.5 V410.2 H448.0 V410.1 H451.5 V410.0 H455.0 V409.8 H458.5 V409.7 H462.0 V409.6 H465.5 V409.4 H469.0 V409.3 H472.5 V409.1 H476.0 V409.0 H479.5 V408.9 H481.2 V408.8" stroke="#000" stroke-width="2.0" fill="none" stroke-dasharray="7 6"/>
<path d="M76.0,545.0 H106.0 H109.5 V538.0 H113.0 V533.8 H116.5 V530.1 H120.0 V526.9 H123.5 V524.2 H127.0 V521.7 H130.5 V518.0 H134.0 V514.0 H137.5 V510.5 H141.0 V507.2 H144.5 V504.2 H148.0 V501.2 H151.5 V498.1 H155.0 V494.9 H158.5 V491.2 H162.0 V487.4 H165.5 V484.0 H169.0 V481.2 H172.5 V478.4 H176.0 V475.5 H179.5 V472.4 H183.0 V467.9 H186.5 V463.5 H190.0 V461.2 H193.5 V458.8 H197.0 V457.3 H200.5 V455.8 H204.0 V452.8 H207.5 V449.2 H211.0 V446.5 H214.5 V444.5 H218.0 V442.5 H221.5 V440.6 H225.0 V438.7 H228.5 V436.8 H232.0 V435.0 H235.5 V434.0 H239.0 V433.1 H242.5 V432.3 H246.0 V431.4 H249.5 V430.5 H253.0 V430.0 H256.5 V429.5 H260.0 V428.9 H263.5 V428.4 H267.0 V427.9 H270.5 V427.4 H274.0 V426.8 H277.5 V426.3 H281.0 V425.8 H284.5 V425.3 H288.0 V424.9 H291.5 V424.5 H295.0 V424.2 H298.5 V423.8 H302.0 V423.5 H305.5 V423.1 H309.0 V422.8 H312.5 V422.5 H316.0 V422.1 H319.5 V421.8 H323.0 V421.5 H326.5 V421.1 H330.0 V420.8 H333.5 V420.5 H337.0 V420.1 H340.5 V419.7 H344.0 V419.2 H347.5 V418.6 H351.0 V418.1 H354.5 V417.6 H358.0 V417.1 H361.5 V416.9 H365.0 V416.8 H368.5 V416.6 H372.0 V416.5 H375.5 V416.3 H379.0 V416.1 H382.5 V416.0 H386.0 V415.8 H389.5 V415.7 H393.0 V415.5 H396.5 V415.4 H400.0 V415.2 H403.5 H407.0 V415.1 H410.5 H414.0 V415.0 H417.5 H421.0 V414.9 H424.5 H428.0 V414.9 H431.5 H435.0 V414.8 H438.5 H442.0 V414.7 H445.5 H449.0 V414.6 H452.5 H456.0 V414.5 H459.5 H463.0 V414.4 H466.5 H470.0 V414.3 H473.5 H477.0 V414.3 H480.5 H481.2 V414.2" stroke="#000" stroke-width="2.0" fill="none" stroke-dasharray="5.5 2"/>
<path d="M76.0,545.0 H106.0 H109.5 V540.6 H113.0 V535.3 H116.5 V530.3 H120.0 V526.9 H123.5 V523.6 H127.0 V521.1 H130.5 V518.5 H134.0 V516.5 H137.5 V514.7 H141.0 V512.9 H144.5 V511.0 H148.0 V509.1 H151.5 V507.0 H155.0 V504.9 H158.5 V502.8 H162.0 V500.7 H165.5 V497.8 H169.0 V494.8 H172.5 V491.9 H176.0 V489.1 H179.5 V486.3 H183.0 V484.0 H186.5 V481.7 H190.0 V479.2 H193.5 V476.4 H197.0 V473.6 H200.5 V470.8 H204.0 V467.3 H207.5 V463.6 H211.0 V459.0 H214.5 V453.8 H218.0 V452.4 H221.5 V451.8 H225.0 V451.2 H228.5 V450.4 H232.0 V449.3 H235.5 V448.1 H239.0 V446.9 H242.5 V445.6 H246.0 V444.2 H249.5 V442.8 H253.0 V441.5 H256.5 V440.1 H260.0 V438.7 H263.5 V437.4 H267.0 V437.0 H270.5 V436.7 H274.0 V436.4 H277.5 V436.0 H281.0 V435.7 H284.5 V435.3 H288.0 V434.9 H291.5 V434.5 H295.0 V434.0 H298.5 V433.1 H302.0 V431.9 H305.5 V430.6 H309.0 V430.2 H312.5 V429.9 H316.0 V429.6 H319.5 V429.2 H323.0 V428.9 H326.5 V428.6 H330.0 V428.3 H333.5 V428.0 H337.0 V427.6 H340.5 V427.4 H344.0 V427.2 H347.5 V427.1 H351.0 V426.9 H354.5 V426.7 H358.0 V426.5 H361.5 V426.4 H365.0 V426.2 H368.5 V426.0 H372.0 V425.9 H375.5 V425.7 H379.0 V425.5 H382.5 V425.4 H386.0 V425.2 H389.5 V425.0 H393.0 V424.8 H396.5 V424.7 H400.0 V424.5 H403.5 V424.2 H407.0 V423.9 H410.5 V423.6 H414.0 V423.3 H417.5 V423.0 H421.0 V422.7 H424.5 V422.4 H428.0 V422.1 H431.5 V421.7 H435.0 V421.4 H438.5 V421.1 H442.0 V420.8 H445.5 V420.5 H449.0 V420.1 H452.5 V419.8 H456.0 V419.4 H459.5 V419.1 H463.0 V418.8 H466.5 V418.4 H470.0 V418.1 H473.5 V417.7 H477.0 V417.4 H480.5 V417.1 H481.2 V417.0" stroke="#000" stroke-width="2.0" fill="none" stroke-dasharray="6.4 6 1.7 4.7"/>
<path d="M76.0,545.0 H103.0 H106.5 V540.0 H110.0 V535.5 H113.5 V532.0 H117.0 V529.7 H120.5 V527.4 H124.0 V525.1 H127.5 V523.2 H131.0 V521.3 H134.5 V519.4 H138.0 V517.5 H141.5 V514.9 H145.0 V512.2 H148.5 V509.6 H152.0 V507.2 H155.5 V504.8 H159.0 V502.4 H162.5 V500.1 H166.0 V497.3 H169.5 V494.3 H173.0 V491.4 H176.5 V488.7 H180.0 V486.4 H183.5 V484.0 H187.0 V482.4 H190.5 V480.7 H194.0 V478.6 H197.5 V476.4 H201.0 V474.3 H204.5 V472.2 H208.0 V470.1 H211.5 V468.3 H215.0 V466.7 H218.5 V465.0 H222.0 V462.4 H225.5 V459.8 H229.0 V457.3 H232.5 V454.8 H236.0 V452.2 H239.5 V450.1 H243.0 V448.4 H246.5 V446.7 H250.0 V445.0 H253.5 V443.5 H257.0 V443.2 H260.5 V443.0 H264.0 V442.8 H267.5 V442.6 H271.0 V442.4 H274.5 V442.2 H278.0 V442.0 H281.5 V441.8 H285.0 V441.7 H288.5 H292.0 V441.6 H295.5 H299.0 V441.6 H302.5 H306.0 V441.4 H309.5 V441.3 H313.0 V441.1 H316.5 V440.9 H320.0 V440.7 H323.5 V440.5 H327.0 V440.3 H330.5 V440.0 H334.0 V439.5 H337.5 V439.0 H341.0 V438.6 H344.5 V438.1 H348.0 V437.6 H351.5 V437.1 H355.0 V436.7 H358.5 V436.3 H362.0 H365.5 V436.2 H369.0 H372.5 V436.1 H376.0 H379.5 V436.0 H383.0 H386.5 V436.0 H390.0 H393.5 V435.9 H397.0 H400.5 V435.8 H404.0 H407.5 H411.0 H414.5 H418.0 H421.5 H425.0 H428.5 H432.0 H435.5 H439.0 H442.5 H446.0 H449.5 H453.0 H456.5 H460.0 H463.5 H467.0 H470.5 H474.0 H477.5 H481.0 H481.2" stroke="#000" stroke-width="2.1" fill="none" stroke-dasharray="2 1.85"/>
<path d="M76,545 H108 V541 H115 V535 H120 V528 H125 V525.5 H141 V521 H151 V512 H156 V507 H163 V500 H169 V490 H177 V480 H186 V476 H194 V473.8 H208.8 V464 H237 V461 H254 V458.3 H271 V454.4 H386.5 V450.8 H412.3 V447.1 H481.2" stroke="#000" stroke-width="2.0" fill="none" stroke-dasharray="14.6 6.2"/>
<text x="116.6" y="77.0" font-size="10.5" text-anchor="start" font-weight="normal" fill="#1a1a1a" stroke="#1a1a1a" stroke-width="0.3" textLength="149.1" lengthAdjust="spacingAndGlyphs">Myeloablative, TBI, marrow</text>
<text x="112.0" y="99.7" font-size="10.5" text-anchor="start" font-weight="normal" fill="#1a1a1a" stroke="#1a1a1a" stroke-width="0.3" textLength="152.6" lengthAdjust="spacingAndGlyphs">Myeloablative, no TBI, PBSC</text>
<text x="128.6" y="122.6" font-size="10.5" text-anchor="start" font-weight="normal" fill="#1a1a1a" stroke="#1a1a1a" stroke-width="0.3" textLength="138.0" lengthAdjust="spacingAndGlyphs">Myeloablative, TBI, PBSC</text>
<text x="69.7" y="145.3" font-size="10.5" text-anchor="start" font-weight="normal" fill="#1a1a1a" stroke="#1a1a1a" stroke-width="0.3" textLength="199.9" lengthAdjust="spacingAndGlyphs">RIC/Nonmyeloablative, bone marrow</text>
<text x="74.6" y="210.0" font-size="9.9" text-anchor="start" font-weight="normal" fill="#1a1a1a" stroke="#1a1a1a" stroke-width="0.45" textLength="5.9" lengthAdjust="spacingAndGlyphs">P</text>
<text x="83.5" y="210.0" font-size="9.9" text-anchor="start" font-weight="normal" fill="#1a1a1a" stroke="#1a1a1a" stroke-width="0.45" textLength="6.0" lengthAdjust="spacingAndGlyphs">&lt;</text>
<text x="93.2" y="210.0" font-size="9.9" text-anchor="start" font-weight="normal" fill="#1a1a1a" stroke="#1a1a1a" stroke-width="0.45" textLength="31.7" lengthAdjust="spacingAndGlyphs">0.0001</text>
<text x="253.8" y="217.8" font-size="10.5" text-anchor="start" font-weight="normal" fill="#1a1a1a" stroke="#1a1a1a" stroke-width="0.3" textLength="198.9" lengthAdjust="spacingAndGlyphs">Reduced intensity/nonmyeloablative,</text>
<text x="424.8" y="228.8" font-size="10.5" text-anchor="start" font-weight="normal" fill="#1a1a1a" stroke="#1a1a1a" stroke-width="0.3" textLength="27.9" lengthAdjust="spacingAndGlyphs">PBSC</text>
<text x="257.3" y="247.0" font-size="10.5" text-anchor="start" font-weight="normal" fill="#1a1a1a" stroke="#1a1a1a" stroke-width="0.3" textLength="195.9" lengthAdjust="spacingAndGlyphs">Myeloablative, no TBI, bone marrow</text>
<text x="117.0" y="350.7" font-size="10.5" text-anchor="start" font-weight="normal" fill="#1a1a1a" stroke="#1a1a1a" stroke-width="0.3" textLength="151.5" lengthAdjust="spacingAndGlyphs">Myeloablative, no TBI, PBSC</text>
<text x="121.7" y="369.9" font-size="10.5" text-anchor="start" font-weight="normal" fill="#1a1a1a" stroke="#1a1a1a" stroke-width="0.3" textLength="146.8" lengthAdjust="spacingAndGlyphs">Myeloablative, TBI, marrow</text>
<text x="71.3" y="386.0" font-size="10.5" text-anchor="start" font-weight="normal" fill="#1a1a1a" stroke="#1a1a1a" stroke-width="0.3" textLength="197.2" lengthAdjust="spacingAndGlyphs">Reduced intensity/nonmyeloablative,</text>
<text x="239.8" y="396.9" font-size="10.5" text-anchor="start" font-weight="normal" fill="#1a1a1a" stroke="#1a1a1a" stroke-width="0.3" textLength="28.7" lengthAdjust="spacingAndGlyphs">PBSC</text>
<text x="342.3" y="394.2" font-size="10.5" text-anchor="start" font-weight="normal" fill="#1a1a1a" stroke="#1a1a1a" stroke-width="0.3" textLength="134.4" lengthAdjust="spacingAndGlyphs">Myeloablative, TBI, PBSC</text>
<text x="280.5" y="470.2" font-size="10.5" text-anchor="start" font-weight="normal" fill="#1a1a1a" stroke="#1a1a1a" stroke-width="0.3" textLength="196.9" lengthAdjust="spacingAndGlyphs">RIC/Nonmyeloablative, bone marrow</text>
<text x="74.5" y="501.1" font-size="9.9" text-anchor="start" font-weight="normal" fill="#1a1a1a" stroke="#1a1a1a" stroke-width="0.45" textLength="6.0" lengthAdjust="spacingAndGlyphs">P</text>
<text x="83.1" y="501.1" font-size="9.9" text-anchor="start" font-weight="normal" fill="#1a1a1a" stroke="#1a1a1a" stroke-width="0.45" textLength="6.3" lengthAdjust="spacingAndGlyphs">=</text>
<text x="93.5" y="501.1" font-size="9.9" text-anchor="start" font-weight="normal" fill="#1a1a1a" stroke="#1a1a1a" stroke-width="0.45" textLength="26.4" lengthAdjust="spacingAndGlyphs">0.001</text>
<text x="220.6" y="521.5" font-size="10.5" text-anchor="start" font-weight="normal" fill="#1a1a1a" stroke="#1a1a1a" stroke-width="0.3" textLength="193.8" lengthAdjust="spacingAndGlyphs">Myeloablative, no TBI, bone marrow</text>
<path d="M272.8,73.8 C305,74 327.8,100 327.8,159.4" stroke="#1a1a1a" stroke-width="1.45" fill="none"/>
<path d="M324.8,154.8 L327.8,159.4 L330.8,154.8" stroke="#1a1a1a" stroke-width="1.45" fill="none" stroke-linejoin="miter"/>
<path d="M272.8,94.1 C298,95 313,115 313,164" stroke="#1a1a1a" stroke-width="1.45" fill="none"/>
<path d="M272.8,118.5 C290,119 297.3,135 297.3,165" stroke="#1a1a1a" stroke-width="1.45" fill="none"/>
<path d="M272.8,142.1 C282,143 287,152 287.1,176" stroke="#1a1a1a" stroke-width="1.45" fill="none"/>
<path d="M284.1,171.4 L287.1,176 L290.1,171.4" stroke="#1a1a1a" stroke-width="1.45" fill="none" stroke-linejoin="miter"/>
<path d="M458.9,218.1 C470,212 473.1,200 473.1,177.4" stroke="#1a1a1a" stroke-width="1.45" fill="none"/>
<path d="M476.1,182.0 L473.1,177.4 L470.1,182.0" stroke="#1a1a1a" stroke-width="1.45" fill="none" stroke-linejoin="miter"/>
<path d="M458.9,243.5 C475,238 480.7,222 480.7,186.8" stroke="#1a1a1a" stroke-width="1.45" fill="none"/>
<path d="M483.7,191.4 L480.7,186.8 L477.7,191.4" stroke="#1a1a1a" stroke-width="1.45" fill="none" stroke-linejoin="miter"/>
<path d="M274.9,346.6 C312,348 329.6,368 329.6,414" stroke="#1a1a1a" stroke-width="1.45" fill="none"/>
<path d="M326.6,409.4 L329.6,414 L332.6,409.4" stroke="#1a1a1a" stroke-width="1.45" fill="none" stroke-linejoin="miter"/>
<path d="M274.9,366.6 C300,368 315.4,385 315.4,419" stroke="#1a1a1a" stroke-width="1.45" fill="none"/>
<path d="M312.4,414.4 L315.4,419 L318.4,414.4" stroke="#1a1a1a" stroke-width="1.45" fill="none" stroke-linejoin="miter"/>
<path d="M274.9,387.1 C292,388 303,400 303,430.7" stroke="#1a1a1a" stroke-width="1.45" fill="none"/>
<path d="M300.0,426.1 L303,430.7 L306.0,426.1" stroke="#1a1a1a" stroke-width="1.45" fill="none" stroke-linejoin="miter"/>
<path d="M212.7,518.1 C198,514 191.5,505 191.5,482.5" stroke="#1a1a1a" stroke-width="1.45" fill="none"/>
<path d="M194.5,487.1 L191.5,482.5 L188.5,487.1" stroke="#1a1a1a" stroke-width="1.45" fill="none" stroke-linejoin="miter"/>
</svg></body></html>
